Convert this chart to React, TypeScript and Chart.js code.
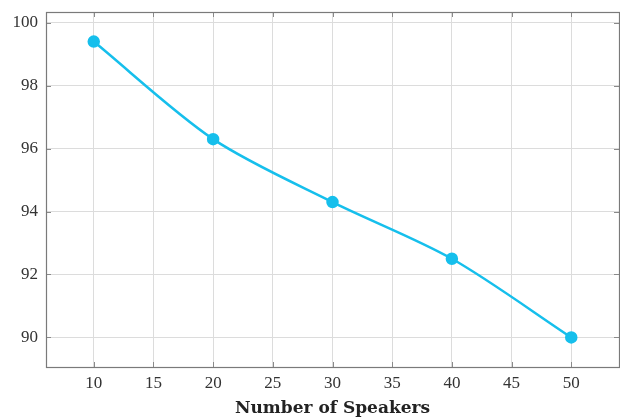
import React, { useEffect, useRef } from "react";
import { Chart, registerables } from "chart.js";

Chart.register(...registerables);

const speakers = [10, 20, 30, 40, 50];
const accuracy = [99.4, 96.3, 94.3, 92.5, 90.0];
const xTicks = [10, 15, 20, 25, 30, 35, 40, 45, 50];
const yTicks = [90, 92, 94, 96, 98, 100];
const xTitle = "Number of Speakers";

const FONT = "'Liberation Serif', 'DejaVu Serif', serif";
const TITLE_FONT = "'DejaVu Serif', 'Liberation Serif', serif";

const boxPlugin = {
  id: "boxPlugin",
  afterDatasetsDraw(chart: any) {
    const { ctx, chartArea: a, scales } = chart;
    ctx.save();
    ctx.strokeStyle = "#8a8a8a";
    ctx.lineWidth = 1;
    const L = 5;
    ctx.beginPath();
    for (const v of xTicks) {
      const px = Math.round(scales.x.getPixelForValue(v)) + 0.5;
      ctx.moveTo(px, a.bottom);
      ctx.lineTo(px, a.bottom - L);
      ctx.moveTo(px, a.top);
      ctx.lineTo(px, a.top + L);
    }
    for (const v of yTicks) {
      const py = Math.round(scales.y.getPixelForValue(v)) + 0.5;
      ctx.moveTo(a.left, py);
      ctx.lineTo(a.left + L, py);
      ctx.moveTo(a.right, py);
      ctx.lineTo(a.right - L, py);
    }
    ctx.stroke();
    ctx.strokeStyle = "#7a7a7a";
    ctx.lineWidth = 1.2;
    ctx.strokeRect(Math.round(a.left) + 0.5, Math.round(a.top) + 0.5, Math.round(a.right - a.left), Math.round(a.bottom - a.top));
    ctx.restore();
  },
};

export default function App() {
  const ref = useRef<HTMLCanvasElement>(null);
  useEffect(() => {
    document.body.style.margin = "0";
    const chart = new Chart(ref.current!, {
      type: "line",
      data: {
        datasets: [
          {
            data: speakers.map((s, i) => ({ x: s, y: accuracy[i] })),
            borderColor: "#16bfec",
            backgroundColor: "#16bfec",
            borderWidth: 2.5,
            pointRadius: 5,
            pointHoverRadius: 5,
            tension: 0.3,
          },
        ],
      },
      options: {
        animation: false,
        responsive: false,
        layout: { autoPadding: false, padding: { top: 12, right: 1, left: 0, bottom: 0 } },
        plugins: { legend: { display: false }, tooltip: { enabled: false } },
        scales: {
          x: {
            type: "linear",
            min: 6,
            max: 54,
            afterBuildTicks: (s: any) => {
              s.ticks = xTicks.map((v) => ({ value: v }));
            },
            afterFit: (s: any) => {
              s.height = 52;
              s.paddingRight = 0;
              s.paddingLeft = 0;
            },
            grid: { color: "#dcdcdc", drawTicks: false },
            border: { display: false },
            ticks: { color: "#333", font: { family: FONT, size: 17 }, padding: 6 },
            title: {
              display: true,
              text: xTitle,
              color: "#222",
              font: { family: TITLE_FONT, size: 17, weight: "bold" },
              padding: { top: 0, bottom: 0 },
            },
          },
          y: {
            type: "linear",
            min: 89.06,
            max: 100.34,
            afterBuildTicks: (s: any) => {
              s.ticks = yTicks.map((v) => ({ value: v }));
            },
            afterFit: (s: any) => {
              s.width = 46;
              s.paddingTop = 0;
              s.paddingBottom = 0;
            },
            grid: { color: "#dcdcdc", drawTicks: false },
            border: { display: false },
            ticks: { color: "#333", font: { family: FONT, size: 17 }, padding: 8 },
          },
        },
      },
      plugins: [boxPlugin],
    });
    return () => chart.destroy();
  }, []);
  return (
    <div style={{ position: "absolute", left: 0, top: 0, width: 620, height: 419 }}>
      <canvas ref={ref} width={620} height={419} />
    </div>
  );
}
